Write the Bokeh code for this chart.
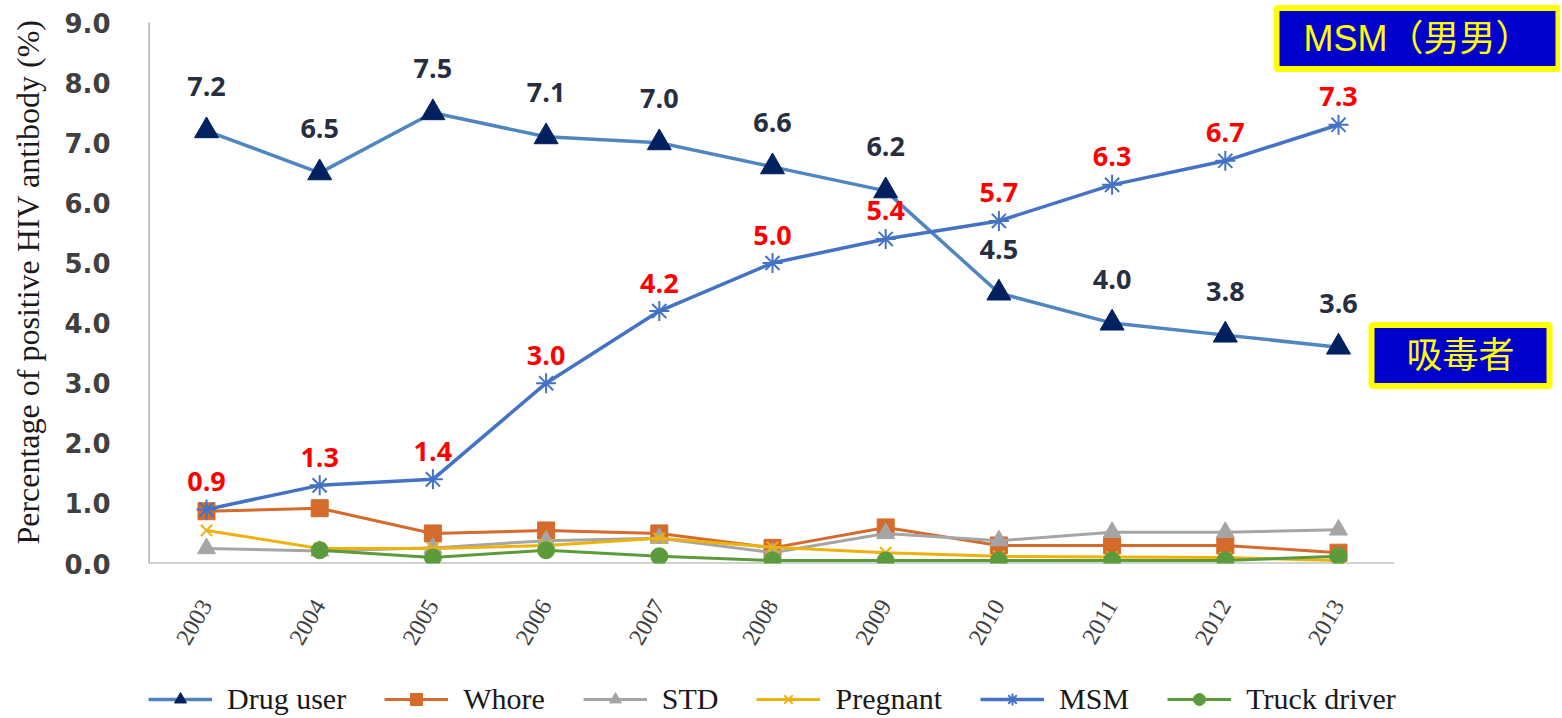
import math
from bokeh.plotting import figure
from bokeh.layouts import column
from bokeh.models import (ColumnDataSource, Legend, LegendItem, Label, FixedTicker,
                          Range1d, PrintfTickFormatter)
from bokeh.core.properties import value
from bokeh.embed import file_html
from bokeh.resources import INLINE

nan = float("nan")
years = [2003, 2004, 2005, 2006, 2007, 2008, 2009, 2010, 2011, 2012, 2013]
drug_user = [7.2, 6.5, 7.5, 7.1, 7.0, 6.6, 6.2, 4.5, 4.0, 3.8, 3.6]
whore = [0.87, 0.92, 0.50, 0.55, 0.50, 0.26, 0.60, 0.30, 0.30, 0.30, 0.18]
std = [0.25, 0.21, 0.26, 0.38, 0.42, 0.18, 0.50, 0.38, 0.52, 0.52, 0.56]
pregnant = [0.55, 0.25, 0.25, 0.30, 0.42, 0.27, 0.18, 0.12, 0.11, 0.10, 0.05]
msm = [0.9, 1.3, 1.4, 3.0, 4.2, 5.0, 5.4, 5.7, 6.3, 6.7, 7.3]
truck_driver = [nan, 0.22, 0.10, 0.22, 0.12, 0.05, 0.05, 0.05, 0.05, 0.05, 0.12]
y_ticks = [0, 1, 2, 3, 4, 5, 6, 7, 8, 9]
series_names = ["Drug user", "Whore", "STD", "Pregnant", "MSM", "Truck driver"]

# layout geometry (pixels)
W, H, LEG_H = 1560, 716, 46
MAIN_H = H - LEG_H
FRAME_L, FRAME_B = 148, 563
LEG_L = 84
X0_PX, PX_PER_YEAR = 206.0, 113.2
PX_PER_UNIT = 60.1
AX_X0 = years[0] - 0.51          # left end of the value axis
AX_X1 = years[-1] + 0.49         # right end of the category axis
x_lo = years[0] - (X0_PX - FRAME_L) / PX_PER_YEAR
x_hi = years[0] + (W - X0_PX) / PX_PER_YEAR
y_hi = FRAME_B / PX_PER_UNIT

src = ColumnDataSource(dict(
    year=years, drug=drug_user, whore=whore, std=std, preg=pregnant, msm=msm,
    truck=truck_driver,
    drug_lbl=["%.1f" % v for v in drug_user],
    msm_lbl=["%.1f" % v for v in msm],
))

p = figure(width=W, height=MAIN_H, output_backend="svg", toolbar_location=None,
           x_range=Range1d(x_lo, x_hi), y_range=Range1d(0, y_hi),
           min_border_left=FRAME_L, min_border_right=0, min_border_top=0,
           min_border_bottom=MAIN_H - FRAME_B, outline_line_color=None)
p.grid.visible = False

# axes (axis lines drawn as segments so they stop where the reference's do)
p.yaxis.ticker = FixedTicker(ticks=y_ticks)
p.yaxis.formatter = PrintfTickFormatter(format="%.1f")
p.xaxis.ticker = FixedTicker(ticks=years)
for ax in (p.xaxis, p.yaxis):
    ax.axis_line_color = None
    ax.major_tick_line_color = None
    ax.minor_tick_line_color = None
    ax.major_label_text_color = "#404040"
p.segment(x0=[AX_X0, AX_X0], y0=[0, 0], x1=[AX_X0, AX_X1], y1=[y_ticks[-1], 0],
          line_color="#A6A6A6", line_width=2)

p.yaxis.major_label_text_font = "DejaVu Sans"
p.yaxis.major_label_text_font_style = "bold"
p.yaxis.major_label_text_font_size = "26px"
p.yaxis.major_label_standoff = 32
p.yaxis.axis_label = "Percentage of positive HIV antibody (%)"
p.yaxis.axis_label_text_font = "Liberation Serif"
p.yaxis.axis_label_text_font_style = "normal"
p.yaxis.axis_label_text_font_size = "32px"
p.yaxis.axis_label_text_color = "#1A1A1A"
p.yaxis.axis_label_standoff = 15
p.xaxis.major_label_text_font = "Liberation Serif"
p.xaxis.major_label_text_font_size = "24px"
p.xaxis.major_label_orientation = math.pi / 3
p.xaxis.major_label_standoff = 32

# series styles
styles = [
    dict(col="drug", color="#4F86C0", lw=3.5, marker="triangle", size=24, mfill="#002060"),
    dict(col="whore", color="#D56B2A", lw=3, marker="square", size=17, mfill="#D56B2A"),
    dict(col="std", color="#A5A5A5", lw=3, marker="triangle", size=18, mfill="#A5A5A5"),
    dict(col="preg", color="#EDB20C", lw=3, marker="x", size=16, mfill=None),
    dict(col="msm", color="#4472C4", lw=3.5, marker="asterisk", size=20, mfill=None),
    dict(col="truck", color="#5B9B3C", lw=3, marker="circle", size=17, mfill="#5B9B3C"),
]

def add_series(fig, st, source):
    ln = fig.line("year", st["col"], source=source, line_color=st["color"],
                  line_width=st["lw"])
    mline = st["mfill"] if st["mfill"] else st["color"]
    mk = fig.scatter("year", st["col"], source=source, marker=st["marker"],
                     size=st["size"], fill_color=st["mfill"], line_color=mline,
                     line_width=2 if st["mfill"] is None else 1)
    return ln, mk

for st in styles:
    add_series(p, st, src)

# data labels
p.text("year", "drug", text="drug_lbl", source=src, y_offset=-44,
       text_align="center", text_baseline="middle", text_color="#262E3F",
       text_font=value("Open Sans"), text_font_style="bold", text_font_size="27px")
p.text("year", "msm", text="msm_lbl", source=src, y_offset=-28,
       text_align="center", text_baseline="middle", text_color="#FF0000",
       text_font=value("Open Sans"), text_font_style="bold", text_font_size="27px")

# highlight boxes
def px_x(px):
    return years[0] + (px - X0_PX) / PX_PER_YEAR

def px_y(py):
    return (FRAME_B - py) / PX_PER_UNIT

box_kw = dict(text_align="center", text_baseline="middle", text_color="#FFFF00",
              text_font="Liberation Sans, Noto Sans CJK SC", text_font_size="36px",
              background_fill_color="#0000CC", border_line_color="#FFFF00",
              border_line_width=6)
p.add_layout(Label(x=px_x(1417), y=px_y(38), text="MSM（男男）",
                   padding=dict(left=27, right=27, top=10, bottom=10), **box_kw))
p.add_layout(Label(x=px_x(1460), y=px_y(355), text="吸毒者",
                   padding=dict(left=35, right=35, top=10, bottom=10), **box_kw))

# legend strip: a second figure whose frame holds only the legend; its
# renderers use the real data but its ranges keep those marks out of view
pl = figure(width=W, height=LEG_H, output_backend="svg", toolbar_location=None,
            x_range=Range1d(0, 1), y_range=Range1d(0, 1),
            x_axis_location=None, y_axis_location=None,
            min_border_left=LEG_L, min_border_right=0, min_border_top=0,
            min_border_bottom=0, outline_line_color=None)
pl.grid.visible = False
items = []
for name, st in zip(series_names, styles):
    ln, mk = add_series(pl, st, src)
    items.append(LegendItem(label=name, renderers=[ln, mk]))
legend = Legend(items=items, orientation="horizontal", location=(0, 0), margin=0,
                label_text_font="Liberation Serif", label_text_font_size="30px",
                label_text_color="#1A1A1A", glyph_width=64, glyph_height=30,
                label_height=30, label_standoff=15, spacing=38, padding=0,
                border_line_color=None, background_fill_alpha=0)
pl.add_layout(legend, "center")

layout = column(p, pl, spacing=0)
open("out.html", "w").write(file_html(layout, INLINE))
